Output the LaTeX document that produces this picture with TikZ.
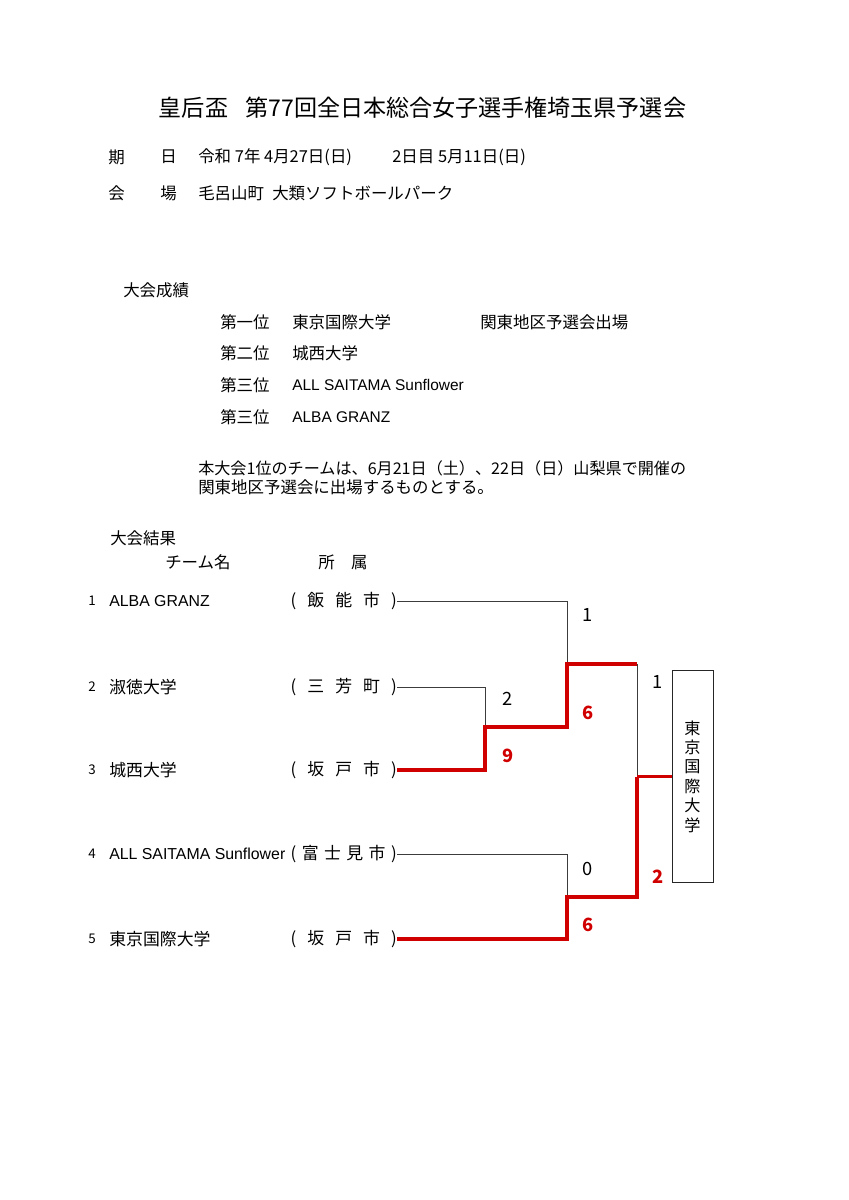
\documentclass[tikz,border=0pt]{standalone}
\usepackage{fontspec}
\setmainfont{Noto Sans CJK JP}
\newfontfamily\lat[Scale=0.94]{Liberation Sans}
\usetikzlibrary{positioning}
\definecolor{winred}{HTML}{D10000}
\definecolor{linegray}{HTML}{3C3C3C}
\newcommand{\aff}[1]{\makebox[2.65cm][s]{(\hfil #1\hfil)}}
\tikzset{
  txt/.style={anchor=west, inner sep=0pt, font=\fontsize{11.7}{14}\selectfont},
  ttl/.style={inner sep=0pt, font=\fontsize{16.4}{20}\selectfont},
  team/.style={anchor=west, inner sep=0pt, font=\fontsize{12}{14}\selectfont},
  idx/.style={inner sep=0pt, font=\fontsize{9.5}{12}\selectfont},
  score/.style={inner sep=0pt, font=\fontsize{13}{15}\selectfont},
  wscore/.style={score, text=winred, font=\fontsize{13}{15}\selectfont\bfseries},
  lose/.style={draw=linegray, line width=.7pt},
  win/.style={draw=winred, line width=2.5pt},
  champbox/.style={draw=black!85, line width=.7pt, minimum width=1.025cm, minimum height=5.275cm, inner sep=0pt, align=center, font=\fontsize{11.5}{13.8}\selectfont},
}
\begin{document}
\begin{tikzpicture}[x=0.025cm, y=-0.025cm]
  \useasboundingbox (0,0) rectangle (848,1200);
  % header
  \node[ttl] (title) at (422.5,108) {皇后盃\hspace{0.75em}第77回全日本総合女子選手権埼玉県予選会};
  \node[txt] (kiL) at (108,157) {期};
  \node[txt] (kiR) at (160,157) {日};
  \node[txt] (day1) at (198,157) {令和 7年 4月27日(日)};
  \node[txt] (day2) at (392,157) {2日目 5月11日(日)};
  \node[txt] (kaL) at (108,193) {会};
  \node[txt] (kaR) at (160,193) {場};
  \node[txt] (town) at (198,193) {毛呂山町};
  \node[txt] (park) at (272,193) {大類ソフトボールパーク};
  % standings
  \node[txt] (seiseki) at (123,290) {大会成績};
  \foreach \r/\y/\team in {第一位/322/東京国際大学, 第二位/353/城西大学, 第三位/385/{\lat ALL SAITAMA Sunflower}, 第三位/417/{\lat ALBA GRANZ}}{
    \node[txt] (rank\y) at (220,\y) {\r};
    \node[txt] (win\y) at (292,\y) {\team};
  }
  \node[txt] (kanto) at (480,322) {関東地区予選会出場};
  \node[txt, font=\fontsize{11.45}{14}\selectfont] (note1) at (198,468) {本大会1位のチームは、6月21日（土）、22日（日）山梨県で開催の};
  \node[txt] (note2) at (198,487) {関東地区予選会に出場するものとする。};
  % results
  \node[txt] (kekka) at (110,538) {大会結果};
  \node[txt] (hdname) at (165,562) {チーム名};
  \node[txt] (hdaff) at (318,562) {所\hspace{1em}属};
  \foreach \i/\y/\name/\town in {1/601/{\lat ALBA GRANZ}/{飯\hfil 能\hfil 市}, 2/687/淑徳大学/{三\hfil 芳\hfil 町}, 3/770/城西大学/{坂\hfil 戸\hfil 市}, 4/854/{\lat ALL SAITAMA Sunflower}/{富\hfil 士\hfil 見\hfil 市}, 5/939/東京国際大学/{坂\hfil 戸\hfil 市}}{
    \node[idx] (n\i) at (92,\y) {\i};
    \node[team] (name\i) at (109,\y) {\name};
    \node[team, anchor=east] (t\i) at (397,\y) {\aff{\town}};
  }
  \node[champbox] (champ) at (692.5,776.5) {東\\京\\国\\際\\大\\学};
  \coordinate (j1) at (567,664);
  \coordinate (j1r) at (637,664);
  \coordinate (j23) at (485,727);
  \coordinate (j45) at (567,897);
  \coordinate (jf) at (637,776.5);
  % losing lines
  \draw[lose] (t1.east) -| (j1);
  \draw[lose] (t2.east) -| (j23);
  \draw[lose] (t4.east) -| (j45);
  \draw[lose] (j1r) -- (jf);
  % winning lines
  \draw[win] (t3.east) -| (j23) -| (j1) -- (j1r);
  \draw[win] (t5.east) -| (j45) -| (jf);
  \draw[win] (jf) -- (champ.west);
  % scores
  \node[score] (s1) at (588,615) {1};
  \node[wscore] (s2) at (588,713) {6};
  \node[score] (s3) at (508,699) {2};
  \node[wscore] (s4) at (508,756) {9};
  \node[score] (s5) at (658,682) {1};
  \node[wscore] (s6) at (658,877) {2};
  \node[score] (s7) at (588,869) {0};
  \node[wscore] (s8) at (588,925) {6};
\end{tikzpicture}
\end{document}
